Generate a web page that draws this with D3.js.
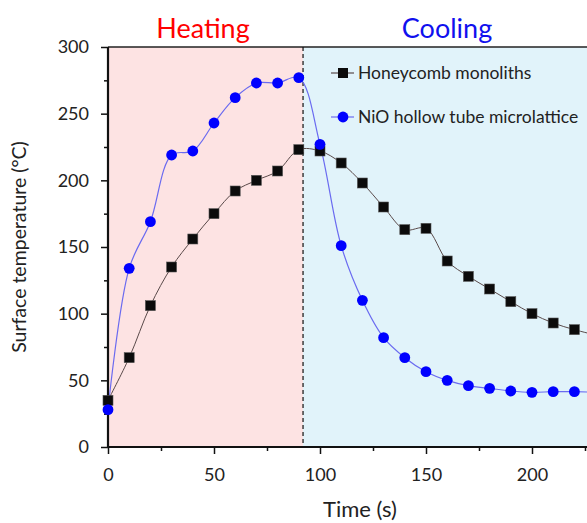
<!DOCTYPE html>
<html>
<head>
<meta charset="utf-8">
<script src="https://cdn.jsdelivr.net/npm/d3@7"></script>
<style>
  body { margin: 0; background: #fff; }
  svg { display: block; font-family: Lato, "Liberation Sans", sans-serif; }
</style>
</head>
<body>
<div id="chart"></div>
<script>
// values (time in s, temperature in °C)
const time = [0, 10, 20, 30, 40, 50, 60, 70, 80, 90, 100, 110, 120, 130, 140, 150, 160, 170, 180, 190, 200, 210, 220, 230];
const honeycomb = [35, 67, 106, 135, 156, 175, 192, 200, 207, 223, 222, 213, 198, 180, 163, 164, 139.5, 128, 118.5, 109, 100, 93, 88, 84];
const nio = [28, 134, 169, 219, 222, 243, 262, 273, 273, 277, 227, 151, 110, 82, 67, 56.5, 50, 46, 44, 42, 41, 41.5, 41.5, 41];
const seriesNames = ["Honeycomb monoliths", "NiO hollow tube microlattice"];
const phaseNames = ["Heating", "Cooling"];
const switchTime = 92;
const xTicks = [0, 50, 100, 150, 200];
const yTicks = [0, 50, 100, 150, 200, 250, 300];

const W = 587, H = 523;
const margin = { top: 47, left: 108, bottom: 76 };
const plotH = H - margin.top - margin.bottom;

const svg = d3.select("#chart").append("svg")
  .attr("width", W)
  .attr("height", H);

const x = d3.scaleLinear().domain([0, 250]).range([margin.left, margin.left + 530]);
const y = d3.scaleLinear().domain([0, 300]).range([margin.top + plotH, margin.top]);

// shaded phases
svg.append("rect")
  .attr("x", x(0)).attr("y", y(300))
  .attr("width", x(switchTime) - x(0)).attr("height", y(0) - y(300))
  .attr("fill", "#fde3e3");
svg.append("rect")
  .attr("x", x(switchTime)).attr("y", y(300))
  .attr("width", x(250) - x(switchTime)).attr("height", y(0) - y(300))
  .attr("fill", "#e1f3fa");

// frame top line
svg.append("line")
  .attr("x1", x(0)).attr("x2", x(250))
  .attr("y1", y(300)).attr("y2", y(300))
  .attr("stroke", "#222").attr("stroke-width", 1.5);

// dashed divider
svg.append("line")
  .attr("x1", x(switchTime)).attr("x2", x(switchTime))
  .attr("y1", y(300)).attr("y2", y(0))
  .attr("stroke", "#111").attr("stroke-width", 1.2)
  .attr("stroke-dasharray", "4,3");

// phase titles
svg.append("text").attr("x", 203).attr("y", 38)
  .attr("text-anchor", "middle").attr("font-size", 27)
  .attr("fill", "#ff0000").text(phaseNames[0]);
svg.append("text").attr("x", 447).attr("y", 38)
  .attr("text-anchor", "middle").attr("font-size", 27)
  .attr("fill", "#1010ee").text(phaseNames[1]);

// axes
const xAxis = svg.append("g")
  .attr("transform", `translate(0,${y(0)})`)
  .call(d3.axisBottom(x).tickValues(xTicks).tickSize(7).tickPadding(14));
svg.append("g")
  .attr("transform", `translate(0,${y(0)})`)
  .call(d3.axisBottom(x).tickValues(d3.range(25, 250, 50)).tickSize(4).tickFormat(""))
  .call(g => g.select(".domain").remove());

const yAxis = svg.append("g")
  .attr("transform", `translate(${x(0)},0)`)
  .call(d3.axisLeft(y).tickValues(yTicks).tickSize(7).tickPadding(12));
svg.append("g")
  .attr("transform", `translate(${x(0)},0)`)
  .call(d3.axisLeft(y).tickValues(d3.range(25, 300, 50)).tickSize(4).tickFormat(""))
  .call(g => g.select(".domain").remove());

svg.selectAll(".tick line").attr("stroke", "#111").attr("stroke-width", 1.5);
svg.selectAll(".domain").attr("stroke", "#111").attr("stroke-width", 2.2);
svg.selectAll(".tick text").attr("font-size", 18).attr("fill", "#222")
  .attr("font-family", "Lato, sans-serif");
xAxis.select(".domain").attr("d", `M${x(0)},0H${x(250)}`);
yAxis.select(".domain").attr("d", `M0,${y(0)}V${y(300)}`);

// axis titles
svg.append("text")
  .attr("transform", `translate(26,${y(150)}) rotate(-90)`)
  .attr("text-anchor", "middle").attr("font-size", 19.5).attr("fill", "#222")
  .text("Surface temperature (°C)");
svg.append("text")
  .attr("x", 360).attr("y", 517)
  .attr("text-anchor", "middle").attr("font-size", 22).attr("fill", "#222")
  .text("Time (s)");

// lines
const hcData = time.map((t, i) => ({ t, v: honeycomb[i] }));
const nioData = time.map((t, i) => ({ t, v: nio[i] }));
const line = d3.line().x(d => x(d.t)).y(d => y(d.v)).curve(d3.curveCatmullRom.alpha(0.5));

svg.append("path").datum(hcData)
  .attr("d", line).attr("fill", "none")
  .attr("stroke", "#5a4a4a").attr("stroke-width", 1);
svg.append("path").datum(nioData)
  .attr("d", line).attr("fill", "none")
  .attr("stroke", "#6a6af0").attr("stroke-width", 1.2);

// markers
svg.selectAll(".hc").data(hcData).enter().append("rect")
  .attr("x", d => x(d.t) - 5).attr("y", d => y(d.v) - 5)
  .attr("width", 10).attr("height", 10)
  .attr("fill", "#0b0b0b").attr("stroke", "#555").attr("stroke-width", 0.6);
svg.selectAll(".nio").data(nioData).enter().append("circle")
  .attr("cx", d => x(d.t)).attr("cy", d => y(d.v)).attr("r", 5.4)
  .attr("fill", "#0000ff");

// legend
const legend = svg.append("g");
[0, 1].forEach(i => {
  const ly = 73 + i * 44;
  legend.append("line")
    .attr("x1", 331).attr("x2", 354).attr("y1", ly).attr("y2", ly)
    .attr("stroke", i ? "#6a6af0" : "#5a4a4a").attr("stroke-width", 1.2);
  if (i === 0) {
    legend.append("rect").attr("x", 338).attr("y", ly - 5)
      .attr("width", 10).attr("height", 10).attr("fill", "#0b0b0b");
  } else {
    legend.append("circle").attr("cx", 343).attr("cy", ly).attr("r", 5.4)
      .attr("fill", "#0000ff");
  }
  legend.append("text")
    .attr("x", 358).attr("y", ly + 6)
    .attr("font-size", 17.5).attr("fill", "#222")
    .text(seriesNames[i]);
});
</script>
</body>
</html>
